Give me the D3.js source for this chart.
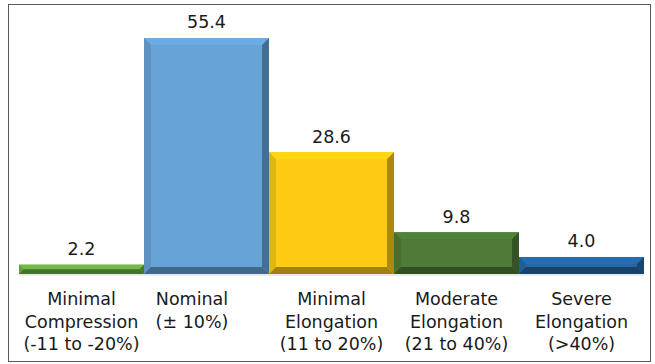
<!DOCTYPE html>
<html>
<head>
<meta charset="utf-8">
<script src="https://cdn.jsdelivr.net/npm/d3@7"></script>
<style>
  html, body { margin: 0; padding: 0; background: #fff; }
  svg { display: block; }
  text { font-family: "DejaVu Sans", Verdana, sans-serif; fill: #1a1a1a; }
</style>
</head>
<body>
<svg id="chart" width="655" height="364"></svg>
<script>
// Distribution of cases by strain category (%)
const categories = [
  ["Minimal", "Compression", "(-11 to -20%)"],
  ["Nominal", "(\u00B1 10%)"],
  ["Minimal", "Elongation", "(11 to 20%)"],
  ["Moderate", "Elongation", "(21 to 40%)"],
  ["Severe", "Elongation", "(>40%)"]
];
const values = [2.2, 55.4, 28.6, 9.8, 4.0];
const valueLabels = ["2.2", "55.4", "28.6", "9.8", "4.0"];
const barColors = ["#6cb143", "#67a3d7", "#fccb12", "#4e7b37", "#2467a7"];

const W = 655, H = 364;
const svg = d3.select("#chart");

// chart frame
svg.append("rect")
  .attr("x", 8.5).attr("y", 4.5)
  .attr("width", 642).attr("height", 357)
  .attr("fill", "#fff").attr("stroke", "#5a5a5a").attr("stroke-width", 1);

const keys = categories.map((d, i) => i);
const x = d3.scaleBand().domain(keys).range([19, 644]).padding(0);
const y = d3.scaleLinear().domain([0, 60]).range([274, 18.4]);

// baseline axis
const axis = svg.append("g")
  .attr("transform", `translate(0,${y(0) + 0.5})`)
  .call(d3.axisBottom(x).tickSize(0).tickFormat(""));
axis.select(".domain").attr("stroke", "#d6d6d6").attr("stroke-width", 1.2);

// bevelled bars
const bars = svg.append("g");
values.forEach((v, i) => {
  const x0 = x(i), x1 = x(i) + x.bandwidth();
  const y0 = y(v), y1 = y(0);
  const h = y1 - y0;
  const b = Math.min(7, h / 2);
  const base = d3.color(barColors[i]);
  const g = bars.append("g");
  // face
  g.append("rect")
    .attr("x", x0).attr("y", y0)
    .attr("width", x1 - x0).attr("height", h)
    .attr("fill", base.formatHex());
  const poly = (pts, fill) => g.append("polygon")
    .attr("points", pts.map(p => p.join(",")).join(" "))
    .attr("fill", fill);
  // top bevel
  poly([[x0, y0], [x1, y0], [x1 - b, y0 + b], [x0 + b, y0 + b]], base.brighter(0.15).formatHex());
  // left bevel
  poly([[x0, y0], [x0 + b, y0 + b], [x0 + b, y1 - b], [x0, y1]], base.darker(0.3).formatHex());
  // right bevel
  poly([[x1, y0], [x1, y1], [x1 - b, y1 - b], [x1 - b, y0 + b]], base.darker(1.1).formatHex());
  // bottom bevel
  poly([[x0, y1], [x0 + b, y1 - b], [x1 - b, y1 - b], [x1, y1]], base.darker(1.25).formatHex());
});

// value labels
svg.append("g").selectAll("text")
  .data(values)
  .join("text")
  .attr("x", (d, i) => x(i) + x.bandwidth() / 2)
  .attr("y", d => y(d) - 9.5)
  .attr("text-anchor", "middle")
  .attr("font-size", "17.5px")
  .text((d, i) => valueLabels[i]);

// category labels (multi-line)
const cat = svg.append("g").selectAll("text")
  .data(categories)
  .join("text")
  .attr("text-anchor", "middle")
  .attr("font-size", "17.5px")
  .attr("transform", (d, i) => {
    const cx = x(i) + x.bandwidth() / 2 + (d.length === 2 ? -14.5 : 0);
    return `translate(${cx},305)`;
  });
cat.selectAll("tspan")
  .data(d => d)
  .join("tspan")
  .attr("x", 0)
  .attr("y", (d, j) => j * 22.5)
  .text(d => d);
</script>
</body>
</html>
